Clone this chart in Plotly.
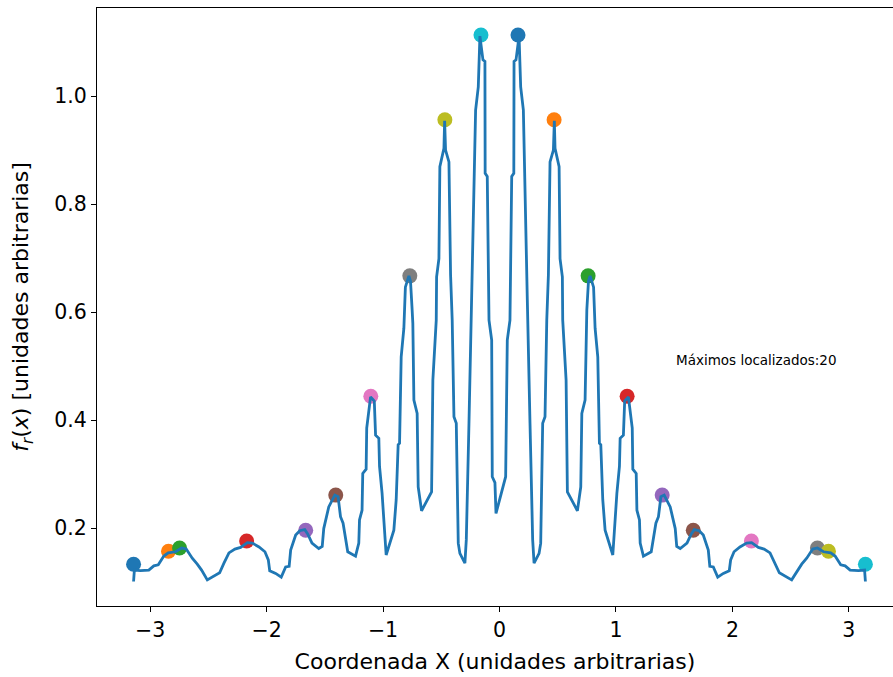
import plotly.graph_objects as go

# Curve f_r(x)
x_vals = [
    -3.142, -3.135, -3.083, -3.011, -2.968, -2.930, -2.882, -2.844, -2.782, -2.730,
    -2.690, -2.638, -2.595, -2.558, -2.509, -2.403, -2.366, -2.323, -2.272, -2.223,
    -2.165, -2.122, -2.065, -2.014, -1.985, -1.973, -1.922, -1.874, -1.836, -1.806,
    -1.793, -1.750, -1.715, -1.672, -1.647, -1.610, -1.552, -1.522, -1.509, -1.466,
    -1.414, -1.386, -1.365, -1.343, -1.303, -1.236, -1.208, -1.202, -1.180, -1.174,
    -1.145, -1.140, -1.107, -1.075, -1.064, -1.036, -1.030, -1.008, -0.973, -0.907,
    -0.887, -0.870, -0.858, -0.844, -0.821, -0.808, -0.778, -0.764, -0.750, -0.744,
    -0.735, -0.707, -0.698, -0.669, -0.583, -0.572, -0.543, -0.540, -0.520, -0.512,
    -0.477, -0.471, -0.463, -0.434, -0.420, -0.406, -0.391, -0.371, -0.354, -0.340,
    -0.297, -0.285, -0.262, -0.239, -0.234, -0.205, -0.182, -0.168, -0.142, -0.125,
    -0.123, -0.105, -0.090, -0.067, -0.062, -0.039, -0.030,
    0.053, 0.067, 0.090, 0.105, 0.123, 0.125, 0.142, 0.168, 0.182, 0.205,
    0.234, 0.239, 0.262, 0.285, 0.297, 0.340, 0.354, 0.371, 0.391, 0.406,
    0.420, 0.434, 0.463, 0.471, 0.477, 0.512, 0.520, 0.540, 0.543, 0.572,
    0.583, 0.669, 0.698, 0.707, 0.735, 0.744, 0.750, 0.764, 0.778, 0.808,
    0.821, 0.844, 0.858, 0.870, 0.887, 0.907, 0.973, 1.008, 1.030, 1.036,
    1.064, 1.075, 1.107, 1.140, 1.145, 1.174, 1.180, 1.202, 1.208, 1.236,
    1.303, 1.343, 1.365, 1.386, 1.414, 1.466, 1.509, 1.522, 1.552, 1.610,
    1.647, 1.672, 1.715, 1.750, 1.793, 1.806, 1.836, 1.874, 1.922, 1.973,
    1.985, 2.014, 2.065, 2.122, 2.165, 2.223, 2.272, 2.323, 2.366, 2.403,
    2.509, 2.558, 2.595, 2.638, 2.690, 2.730, 2.782, 2.844, 2.882, 2.930,
    2.968, 3.011, 3.083, 3.135, 3.142,
]
y_vals = [
    0.101, 0.122, 0.121, 0.122, 0.130, 0.132, 0.148, 0.154, 0.156, 0.163,
    0.161, 0.144, 0.133, 0.122, 0.104, 0.117, 0.135, 0.154, 0.161, 0.164,
    0.173, 0.172, 0.165, 0.156, 0.141, 0.121, 0.116, 0.109, 0.128, 0.129,
    0.159, 0.187, 0.195, 0.197, 0.189, 0.172, 0.162, 0.166, 0.199, 0.239,
    0.261, 0.258, 0.221, 0.209, 0.156, 0.148, 0.172, 0.215, 0.233, 0.301,
    0.309, 0.385, 0.443, 0.435, 0.372, 0.366, 0.314, 0.264, 0.150, 0.196,
    0.252, 0.354, 0.357, 0.517, 0.570, 0.646, 0.667, 0.657, 0.604, 0.579,
    0.437, 0.412, 0.276, 0.232, 0.267, 0.474, 0.585, 0.665, 0.699, 0.869,
    0.903, 0.954, 0.900, 0.878, 0.669, 0.585, 0.406, 0.394, 0.172, 0.153,
    0.135, 0.178, 0.394, 0.622, 0.709, 0.974, 1.017, 1.111, 1.067, 1.064,
    0.857, 0.851, 0.585, 0.548, 0.295, 0.284, 0.227,
    0.295, 0.548, 0.585, 0.851, 0.857, 1.064, 1.067, 1.111, 1.017, 0.974,
    0.709, 0.622, 0.394, 0.178, 0.135, 0.153, 0.172, 0.394, 0.406, 0.585,
    0.669, 0.878, 0.900, 0.954, 0.903, 0.869, 0.699, 0.665, 0.585, 0.474,
    0.267, 0.232, 0.276, 0.412, 0.437, 0.579, 0.604, 0.657, 0.667, 0.646,
    0.570, 0.517, 0.357, 0.354, 0.252, 0.196, 0.150, 0.264, 0.314, 0.366,
    0.372, 0.435, 0.443, 0.385, 0.309, 0.301, 0.233, 0.215, 0.172, 0.148,
    0.156, 0.209, 0.221, 0.258, 0.261, 0.239, 0.199, 0.166, 0.162, 0.172,
    0.189, 0.197, 0.195, 0.187, 0.159, 0.129, 0.128, 0.109, 0.116, 0.121,
    0.141, 0.156, 0.165, 0.172, 0.173, 0.164, 0.161, 0.154, 0.135, 0.117,
    0.104, 0.122, 0.133, 0.144, 0.161, 0.163, 0.156, 0.154, 0.148, 0.132,
    0.130, 0.122, 0.121, 0.122, 0.101,
]

# Located maxima
peak_x = [-3.142, -2.842, -2.747, -2.171, -1.664, -1.406, -1.105, -0.770, -0.469, -0.159,
          0.159, 0.469, 0.761, 1.096, 1.397, 1.664, 2.163, 2.730, 2.825, 3.142]
peak_y = [0.133, 0.157, 0.163, 0.176, 0.196, 0.261, 0.444, 0.667, 0.956, 1.113,
          1.113, 0.956, 0.667, 0.444, 0.261, 0.196, 0.176, 0.163, 0.157, 0.133]
tab10 = ["#1f77b4", "#ff7f0e", "#2ca02c", "#d62728", "#9467bd",
         "#8c564b", "#e377c2", "#7f7f7f", "#bcbd22", "#17becf"]
peak_colors = [tab10[i % 10] for i in range(len(peak_x))]

x_ticks = [-3, -2, -1, 0, 1, 2, 3]
y_ticks = [0.2, 0.4, 0.6, 0.8, 1.0]
note_text = "Máximos localizados:20"
note_x, note_y = 1.5, 0.5

FONT = "DejaVu Sans"
TICK_SIZE = 20.5
TITLE_SIZE = 22

fig = go.Figure()
fig.add_trace(go.Scatter(
    x=peak_x, y=peak_y, mode="markers",
    marker=dict(color=peak_colors, size=15, line=dict(width=0)),
    showlegend=False, hoverinfo="skip",
))
fig.add_trace(go.Scatter(
    x=x_vals, y=y_vals, mode="lines",
    line=dict(color="#1f77b4", width=2.8),
    showlegend=False,
))

fig.add_annotation(
    x=note_x, y=note_y, xref="x", yref="y", text=note_text,
    showarrow=False, xanchor="left", yanchor="bottom", yshift=-4,
    font=dict(family=FONT, size=13.5, color="#000000"),
)

fig.update_layout(
    width=893, height=677,
    margin=dict(l=97, r=0, t=8, b=71),
    paper_bgcolor="white", plot_bgcolor="white",
    font=dict(family=FONT, size=TICK_SIZE, color="#000000"),
    xaxis=dict(
        range=[-3.456, 3.379],
        tickvals=x_ticks,
        ticks="outside", ticklen=5, tickwidth=1.2, tickcolor="black",
        showline=True, linecolor="black", linewidth=1.2, mirror=True,
        showgrid=False, zeroline=False,
        tickfont=dict(family=FONT, size=TICK_SIZE),
        title=dict(text="Coordenada X (unidades arbitrarias)", font=dict(family=FONT, size=TITLE_SIZE), standoff=12),
    ),
    yaxis=dict(
        range=[0.0556, 1.163],
        tickvals=y_ticks, tickformat=".1f",
        ticks="outside", ticklen=5, tickwidth=1.2, tickcolor="black",
        showline=True, linecolor="black", linewidth=1.2, mirror=False,
        showgrid=False, zeroline=False,
        tickfont=dict(family=FONT, size=TICK_SIZE),
        title=dict(text="<i>f</i><sub><i>r</i></sub>(<i>x</i>) [unidades arbitrarias]",
                   font=dict(family=FONT, size=TITLE_SIZE), standoff=19),
    ),
)

fig.write_html("out.html")
